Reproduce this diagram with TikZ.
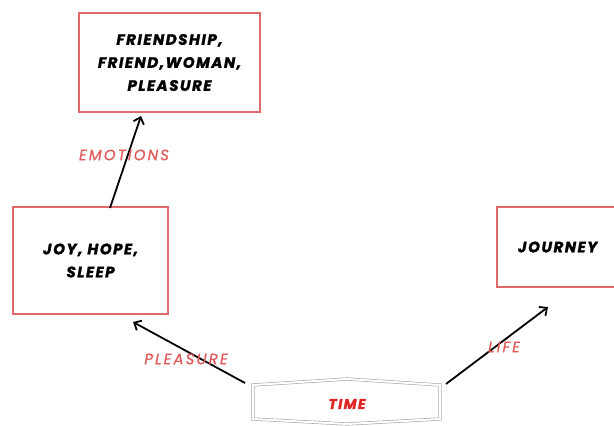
\documentclass[tikz,border=0pt]{standalone}
\usepackage{fontspec}
\setmainfont{Poppins}
\newfontfamily\boxfont[LetterSpace=10, BoldItalicFeatures={FakeBold=1.6}]{Poppins}
\newfontfamily\labfont[LetterSpace=14, ItalicFeatures={FakeBold=0.6}]{Poppins}
\usetikzlibrary{arrows.meta}
\definecolor{boxred}{HTML}{E06A6A}
\definecolor{labred}{HTML}{E05A5A}
\definecolor{timered}{HTML}{E02424}
\tikzset{
  concept/.style={draw=boxred, line width=1.6pt, align=center, inner sep=0pt,
    font=\boxfont\bfseries\itshape\fontsize{15}{23}\selectfont},
  lab/.style={text=labred, font=\labfont\itshape\fontsize{15}{16}\selectfont},
  conn/.style={line width=1.8pt, -{Straight Barb[length=6pt,width=11pt,line width=1.8pt]}},
}
\begin{document}
\begin{tikzpicture}[x=1pt,y=-1pt]
\useasboundingbox (0,0) rectangle (614,426);
% boxes
\node[concept, minimum width=181pt, minimum height=99pt] (top) at (169.5,62.5)
  {FRIENDSHIP,\\FRIEND,WOMAN,\\PLEASURE};
\node[concept, minimum width=155pt, minimum height=107pt] (left) at (90.5,260.5)
  {JOY, HOPE,\\SLEEP};
\node[concept, minimum width=150pt, minimum height=80pt, text width=150pt, align=left] (right) at (572,247)
  {\hspace*{21pt}JOURNEY};
% time shape
\node[text=timered, font=\boxfont\bfseries\itshape\fontsize{14}{16}\selectfont] (time) at (347,404) {TIME};
\draw[gray!70, line width=0.6pt, double distance=2pt, line join=miter]
  (253,385) -- (347,379) -- (440,385) -- (440,419) -- (347,424) -- (253,419) -- cycle;
% connector anchors
\coordinate (a1) at (110,208);
\coordinate (a2) at (141,116);
\coordinate (b1) at (245,383);
\coordinate (b2) at (133,322);
\coordinate (c1) at (446,384);
\coordinate (c2) at (548,307);
\draw[conn] (a1) -- (a2);
\draw[conn] (b1) -- (b2);
\draw[conn] (c1) -- (c2);
% labels
\node[lab] (emo) at (124,155) {EMOTIONS};
\node[lab] (ple) at (186,359) {PLEASURE};
\node[lab] (life) at (504,347) {LIFE};
\end{tikzpicture}
\end{document}
